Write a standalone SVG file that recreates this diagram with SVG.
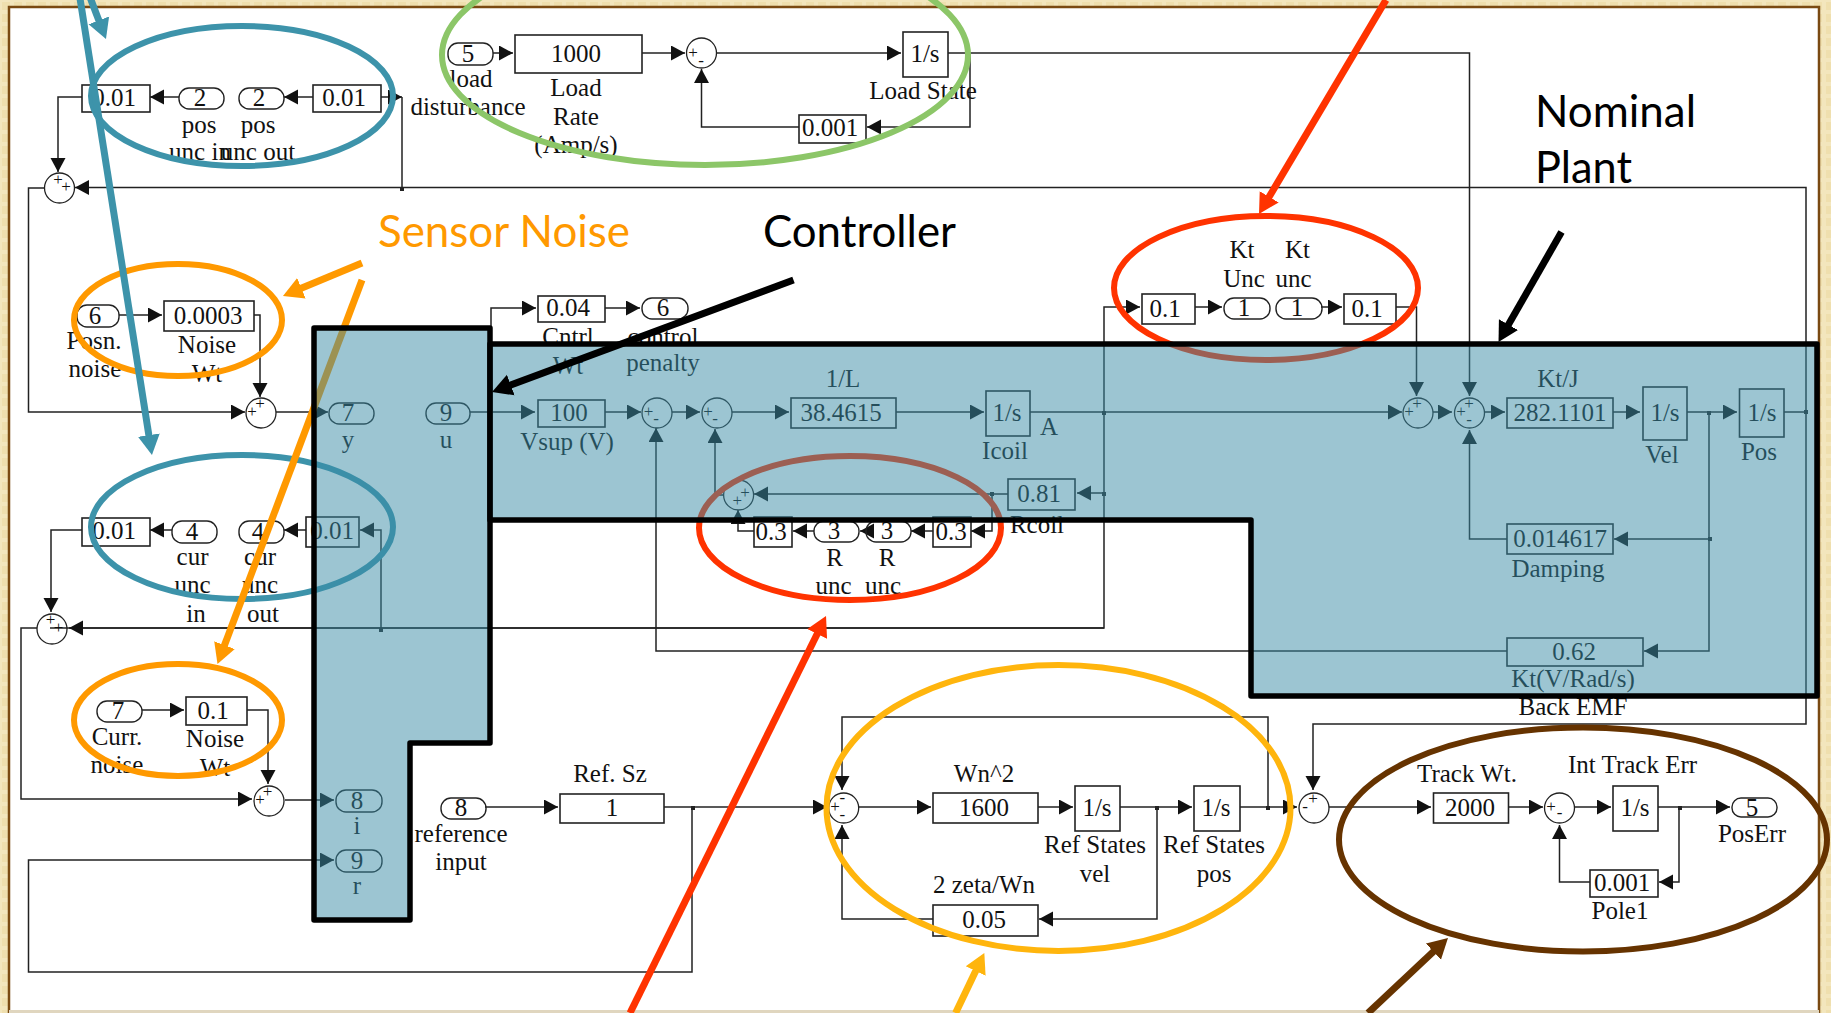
<svg xmlns="http://www.w3.org/2000/svg" width="1831" height="1013" viewBox="0 0 1831 1013">
<style>
.w{fill:none;stroke:#222;stroke-width:1.5}
.a{fill:none;stroke:#222;stroke-width:1.5;marker-end:url(#ah)}
.b{fill:#fff;fill-opacity:0;stroke:#222;stroke-width:1.6}
.p{fill:none;stroke:#222;stroke-width:1.4}
.s{fill:none;stroke:#222;stroke-width:1.3}
text{font-family:"Liberation Serif","Times New Roman",serif;font-size:25px;fill:#111;text-anchor:middle}
.g{font-size:17px}
.lab{font-family:Lato,"Noto Sans",sans-serif;font-size:44px;text-anchor:start}
.el{fill:none;stroke-width:6}
.reg{fill:#3a8ca5;fill-opacity:.5;stroke:#000;stroke-width:5.5;stroke-linejoin:round}
.big{fill:none;stroke-width:7}
</style>
<defs>
<pattern id="tex" width="12" height="12" patternUnits="userSpaceOnUse"><rect width="12" height="12" fill="#f3e6bd"/><rect x="2" y="2" width="8" height="8" fill="#efdfae"/></pattern>
<marker id="ah" markerUnits="userSpaceOnUse" markerWidth="15" markerHeight="16" refX="14" refY="7.5" orient="auto"><path d="M0,0L14,7.5L0,15Z" fill="#111"/></marker>
<marker id="hBlue" markerUnits="userSpaceOnUse" markerWidth="24" markerHeight="24" refX="10" refY="12" orient="auto"><path d="M0,1L20,12L0,23Z" fill="#3d93aa"/></marker>
<marker id="hOrange" markerUnits="userSpaceOnUse" markerWidth="24" markerHeight="24" refX="10" refY="12" orient="auto"><path d="M0,1L20,12L0,23Z" fill="#ff9900"/></marker>
<marker id="hBlack" markerUnits="userSpaceOnUse" markerWidth="24" markerHeight="24" refX="10" refY="12" orient="auto"><path d="M0,1L20,12L0,23Z" fill="#000"/></marker>
<marker id="hRed" markerUnits="userSpaceOnUse" markerWidth="24" markerHeight="24" refX="10" refY="12" orient="auto"><path d="M0,1L20,12L0,23Z" fill="#ff3300"/></marker>
<marker id="hYellow" markerUnits="userSpaceOnUse" markerWidth="24" markerHeight="24" refX="10" refY="12" orient="auto"><path d="M0,1L20,12L0,23Z" fill="#ffb50d"/></marker>
<marker id="hBrown" markerUnits="userSpaceOnUse" markerWidth="24" markerHeight="24" refX="10" refY="12" orient="auto"><path d="M0,1L20,12L0,23Z" fill="#663300"/></marker>
</defs>
<rect width="1831" height="1013" fill="url(#tex)"/>
<rect x="9" y="7" width="1810" height="1004" fill="#fff"/>
<path d="M9,1013V7H1819V1013" fill="none" stroke="#7a4a12" stroke-width="2.5"/>
<path d="M9,1011.5H1819" fill="none" stroke="#e0d6bf" stroke-width="3"/>

<g id="connectors">
<path class="a" d="M493,53H513"/>
<path class="a" d="M642,53H685"/>
<path class="a" d="M717,53H901"/>
<path class="a" d="M948,53H1469.500V396"/>
<path class="a" d="M970,53V127H867"/>
<path class="a" d="M799,127H701.500V69"/>
<path class="a" d="M381,97H402"/>
<path class="w" d="M402,97V188"/>
<path class="a" d="M1806,412V187.500H75"/>
<path class="a" d="M313,97H284"/>
<path class="a" d="M179,97H150"/>
<path class="a" d="M82,97H58V172"/>
<path class="a" d="M44,188H28.500V412H245"/>
<path class="a" d="M119,315H162"/>
<path class="a" d="M254,315H260V397"/>
<path class="a" d="M276,412H328"/>
<path class="a" d="M470,412H535"/>
<path class="a" d="M491,328V308H536"/>
<path class="a" d="M605,308H640"/>
<path class="a" d="M605,412H641"/>
<path class="a" d="M672,412H700"/>
<path class="a" d="M732,412H789"/>
<path class="a" d="M896,412H984"/>
<path class="w" d="M1030,412H1104"/>
<path class="a" d="M1104,412H1402"/>
<path class="a" d="M1104,412V307H1140"/>
<path class="a" d="M1195,307H1222"/>
<path class="a" d="M1321,307H1342"/>
<path class="a" d="M1396,307H1416.500V396"/>
<path class="w" d="M1104,412V628H50"/>
<path class="a" d="M1104,628H69"/>
<path class="a" d="M381,629V530H360"/>
<path class="a" d="M306,530H284"/>
<path class="a" d="M172,530H150"/>
<path class="a" d="M82,530H51V612"/>
<path class="a" d="M37,628H21V799H252"/>
<path class="a" d="M142,710H184"/>
<path class="a" d="M247,710H268V784"/>
<path class="a" d="M285,800H334"/>
<path class="a" d="M692,807V972H28.500V860H334"/>
<path class="a" d="M485,807H558"/>
<path class="a" d="M664,807H827"/>
<path class="a" d="M859,807H931"/>
<path class="a" d="M1038,807H1073"/>
<path class="a" d="M1120,807H1192"/>
<path class="a" d="M1157,807V919H1039"/>
<path class="a" d="M933,919H842V825"/>
<path class="a" d="M1240,807H1297"/>
<path class="a" d="M1268,807V717H842V790"/>
<path class="a" d="M1806,412V724H1313V790"/>
<path class="a" d="M1329,807H1431"/>
<path class="a" d="M1508,807H1543"/>
<path class="a" d="M1575,807H1611"/>
<path class="a" d="M1658,807H1730"/>
<path class="a" d="M1679,807V882H1659"/>
<path class="a" d="M1590,882H1559.500V825"/>
<path class="a" d="M1433,412H1452"/>
<path class="a" d="M1485,412H1505"/>
<path class="a" d="M1613,412H1640"/>
<path class="a" d="M1687,412H1737"/>
<path class="w" d="M1784,412H1806"/>
<path class="a" d="M1709,412V539H1614"/>
<path class="a" d="M1709,539V651H1644"/>
<path class="a" d="M1507,539H1469.500V430"/>
<path class="a" d="M1507,651H656V428"/>
<path class="a" d="M724,495H715V429"/>
<path class="a" d="M1104,493H1077"/>
<path class="a" d="M1008,494H754"/>
<path class="a" d="M992,494V531H971"/>
<path class="a" d="M933,531H911"/>
<path class="a" d="M866,531H860"/>
<path class="a" d="M814,531H793"/>
<path class="a" d="M754,531H738V510"/>
<g fill="#222"><rect x="400" y="187" width="4" height="4"/><rect x="379" y="628" width="4" height="4"/><rect x="1102" y="411" width="4" height="4"/><rect x="1102" y="492" width="4" height="4"/><rect x="990" y="492" width="4" height="4"/><rect x="1707" y="411" width="4" height="4"/><rect x="1708" y="537" width="4" height="4"/><rect x="1804" y="410" width="4" height="4"/><rect x="691" y="806" width="4" height="4"/><rect x="1155" y="806" width="4" height="4"/><rect x="1266" y="806" width="4" height="4"/><rect x="1678" y="806" width="4" height="4"/></g>
</g>

<g id="n-pos-in"><rect class="b" x="82" y="85" width="68" height="27"/><text x="114" y="106">0.01</text></g>
<g id="n-pos-unc-in"><rect class="p" x="179" y="88" width="45" height="21" rx="10"/><text x="200" y="106">2</text><text x="199" y="133">pos</text><text x="200" y="160">unc in</text></g>
<g id="n-pos-unc-out"><rect class="p" x="239" y="88" width="45" height="21" rx="10"/><text x="259" y="106">2</text><text x="258" y="133">pos</text><text x="258" y="160">unc out</text></g>
<g id="n-pos-out"><rect class="b" x="313" y="85" width="68" height="27"/><text x="344" y="106">0.01</text></g>
<g id="n-load-in"><rect class="p" x="448" y="43" width="45" height="22" rx="10"/><text x="468" y="62">5</text><text x="471" y="87">load</text><text x="468" y="115">disturbance</text></g>
<g id="n-load-rate"><rect class="b" x="515" y="35" width="127" height="38"/><text x="576" y="62">1000</text><text x="576" y="96">Load</text><text x="576" y="125">Rate</text><text x="576" y="153">(Amp/s)</text></g>
<g id="n-load-sum"><circle class="s" cx="701.500" cy="53" r="15"/><text class="g" x="693" y="58">+</text><text class="g" x="701" y="66">-</text></g>
<g id="n-load-state"><rect class="b" x="903" y="32" width="45" height="45"/><text x="925" y="62">1/s</text><text x="923" y="99">Load State</text></g>
<g id="n-load-pole"><rect class="b" x="799" y="115" width="67" height="28"/><text x="830" y="136">0.001</text></g>
<g id="n-sum1"><circle class="s" cx="59.500" cy="188" r="15"/><text class="g" x="58" y="185">+</text><text class="g" x="66" y="192">+</text></g>
<g id="n-posn-noise"><rect class="p" x="77" y="305" width="42" height="22" rx="10"/><text x="95" y="324">6</text><text x="94" y="349">Posn.</text><text x="95" y="377">noise</text></g>
<g id="n-noise-wt"><rect class="b" x="164" y="301" width="90" height="30"/><text x="208" y="324">0.0003</text><text x="207" y="353">Noise</text><text x="207" y="382">Wt</text></g>
<g id="n-sum2"><circle class="s" cx="261" cy="413" r="15"/><text class="g" x="252" y="417">+</text><text class="g" x="260" y="409">+</text></g>
<g id="n-y"><rect class="p" x="329" y="403" width="45" height="21" rx="10"/><text x="348" y="421">7</text><text x="348" y="448">y</text></g>
<g id="n-u"><rect class="p" x="426" y="403" width="44" height="21" rx="10"/><text x="446" y="421">9</text><text x="446" y="448">u</text></g>
<g id="n-cntrl"><rect class="b" x="538" y="296" width="67" height="26"/><text x="568" y="316">0.04</text><text x="568" y="345">Cntrl</text><text x="568" y="374">Wt</text></g>
<g id="n-penalty"><rect class="p" x="642" y="298" width="46" height="21" rx="10"/><text x="663" y="316">6</text><text x="663" y="345">control</text><text x="663" y="371">penalty</text></g>
<g id="n-vsup"><rect class="b" x="538" y="400" width="67" height="27"/><text x="569" y="421">100</text><text x="567" y="450">Vsup (V)</text></g>
<g id="n-sum-a"><circle class="s" cx="657" cy="413" r="15"/><text class="g" x="648.500" y="417">+</text><text class="g" x="656" y="424">-</text></g>
<g id="n-sum-b"><circle class="s" cx="717" cy="413" r="15"/><text class="g" x="708" y="417">+</text><text class="g" x="715" y="424">-</text></g>
<g id="n-1-l"><rect class="b" x="791" y="398" width="105" height="30"/><text x="841" y="421">38.4615</text><text x="843" y="387">1/L</text></g>
<g id="n-icoil"><rect class="b" x="986" y="391" width="44" height="45"/><text x="1007" y="421">1/s</text><text x="1049" y="435">A</text><text x="1005" y="459">Icoil</text></g>
<g id="n-rcoil"><rect class="b" x="1008" y="479" width="67" height="31"/><text x="1039" y="502">0.81</text><text x="1037" y="533">Rcoil</text></g>
<g id="n-sum-r"><circle class="s" cx="738.600" cy="495" r="15"/><text class="g" x="745" y="498">+</text><text class="g" x="737.400" y="506">+</text></g>
<g id="n-r-in"><rect class="b" x="754" y="517" width="38" height="30"/><text x="771" y="540">0.3</text></g>
<g id="n-r-unc-in"><rect class="p" x="814" y="521" width="45" height="21" rx="10"/><text x="834" y="539">3</text><text x="834.500" y="566">R</text><text x="833.500" y="594">unc</text></g>
<g id="n-r-unc-out"><rect class="p" x="866" y="521" width="45" height="21" rx="10"/><text x="887" y="539">3</text><text x="887" y="566">R</text><text x="883" y="594">unc</text></g>
<g id="n-r-out"><rect class="b" x="933" y="517" width="38" height="30"/><text x="951" y="540">0.3</text></g>
<g id="n-kt-in"><rect class="b" x="1142" y="294" width="53" height="30"/><text x="1165" y="317">0.1</text></g>
<g id="n-kt-unc-in"><rect class="p" x="1224" y="298" width="46" height="21" rx="10"/><text x="1244" y="316">1</text><text x="1242" y="258">Kt</text><text x="1244" y="287">Unc</text></g>
<g id="n-kt-unc-out"><rect class="p" x="1276" y="298" width="46" height="21" rx="10"/><text x="1297" y="316">1</text><text x="1297.500" y="258">Kt</text><text x="1293.500" y="287">unc</text></g>
<g id="n-kt-out"><rect class="b" x="1344" y="294" width="52" height="30"/><text x="1367" y="317">0.1</text></g>
<g id="n-sum-d"><circle class="s" cx="1418" cy="413" r="15"/><text class="g" x="1409" y="417">+</text><text class="g" x="1417" y="409">+</text></g>
<g id="n-sum-e"><circle class="s" cx="1469.500" cy="413" r="15"/><text class="g" x="1461" y="417">+</text><text class="g" x="1469" y="409">+</text><text class="g" x="1469" y="425">-</text></g>
<g id="n-kt-j"><rect class="b" x="1507" y="398" width="106" height="30"/><text x="1560" y="421">282.1101</text><text x="1558" y="387">Kt/J</text></g>
<g id="n-vel"><rect class="b" x="1643" y="387" width="44" height="53"/><text x="1665" y="421">1/s</text><text x="1662" y="463">Vel</text></g>
<g id="n-pos"><rect class="b" x="1739.500" y="389" width="44.500" height="48"/><text x="1762" y="421">1/s</text><text x="1759" y="460">Pos</text></g>
<g id="n-damping"><rect class="b" x="1507" y="524" width="106" height="30"/><text x="1560" y="547">0.014617</text><text x="1558" y="577">Damping</text></g>
<g id="n-back-emf"><rect class="b" x="1507" y="638" width="136" height="28"/><text x="1574" y="660">0.62</text><text x="1573" y="687">Kt(V/Rad/s)</text><text x="1573" y="715">Back EMF</text></g>
<g id="n-cur-in"><rect class="b" x="82" y="518" width="68" height="28"/><text x="114" y="539">0.01</text></g>
<g id="n-cur-unc-in"><rect class="p" x="172" y="521" width="45" height="22" rx="10"/><text x="192" y="540">4</text><text x="192.500" y="565">cur</text><text x="192.500" y="593">unc</text><text x="196" y="622">in</text></g>
<g id="n-cur-unc-out"><rect class="p" x="239" y="521" width="45" height="22" rx="10"/><text x="258" y="540">4</text><text x="260" y="565">cur</text><text x="260" y="593">unc</text><text x="263" y="622">out</text></g>
<g id="n-cur-out"><rect class="b" x="306" y="517" width="53" height="30"/><text x="332" y="539">0.01</text></g>
<g id="n-sum3"><circle class="s" cx="52" cy="629" r="15"/><text class="g" x="50.500" y="625">+</text><text class="g" x="58.500" y="633">+</text></g>
<g id="n-curr-noise"><rect class="p" x="97" y="701" width="45" height="21" rx="10"/><text x="118" y="719">7</text><text x="117" y="745">Curr.</text><text x="117" y="773">noise</text></g>
<g id="n-curr-wt"><rect class="b" x="186" y="697" width="61" height="28"/><text x="213" y="719">0.1</text><text x="215" y="747">Noise</text><text x="215" y="776">Wt</text></g>
<g id="n-sum4"><circle class="s" cx="269" cy="801" r="15"/><text class="g" x="260" y="805">+</text><text class="g" x="267.500" y="797">+</text></g>
<g id="n-i"><rect class="p" x="336" y="790" width="46" height="22" rx="10"/><text x="357" y="809">8</text><text x="357" y="834">i</text></g>
<g id="n-r"><rect class="p" x="336" y="850" width="46" height="22" rx="10"/><text x="357" y="869">9</text><text x="357" y="894">r</text></g>
<g id="n-ref-in"><rect class="p" x="441" y="798" width="45" height="21" rx="10"/><text x="461" y="816">8</text><text x="461" y="842">reference</text><text x="461" y="870">input</text></g>
<g id="n-ref-sz"><rect class="b" x="560" y="794" width="104" height="29"/><text x="612" y="816">1</text><text x="610" y="782">Ref. Sz</text></g>
<g id="n-sum-ref"><circle class="s" cx="843.700" cy="808" r="15"/><text class="g" x="835" y="812">+</text><text class="g" x="842.300" y="803">-</text><text class="g" x="842.300" y="820">-</text></g>
<g id="n-wn2"><rect class="b" x="933" y="793" width="105" height="30"/><text x="984" y="816">1600</text><text x="984" y="782">Wn^2</text></g>
<g id="n-ref-vel"><rect class="b" x="1075" y="786" width="45" height="45"/><text x="1097" y="816">1/s</text><text x="1095" y="853">Ref States</text><text x="1095" y="882">vel</text></g>
<g id="n-ref-pos"><rect class="b" x="1194" y="786" width="46" height="45"/><text x="1216" y="816">1/s</text><text x="1214" y="853">Ref States</text><text x="1214" y="882">pos</text></g>
<g id="n-zeta"><rect class="b" x="933" y="905" width="105" height="31"/><text x="984" y="928">0.05</text><text x="984" y="893">2 zeta/Wn</text></g>
<g id="n-sum-err"><circle class="s" cx="1314" cy="808" r="15"/><text class="g" x="1313" y="804">+</text><text class="g" x="1305" y="812">-</text></g>
<g id="n-track"><rect class="b" x="1433.500" y="793" width="75" height="30"/><text x="1470" y="816">2000</text><text x="1467" y="782">Track Wt.</text></g>
<g id="n-sum-track"><circle class="s" cx="1559.500" cy="808" r="15"/><text class="g" x="1551" y="812">+</text><text class="g" x="1559.500" y="818">-</text></g>
<g id="n-int"><rect class="b" x="1613" y="786" width="45" height="45"/><text x="1635" y="816">1/s</text><text x="1632.500" y="773">Int Track Err</text></g>
<g id="n-poserr"><rect class="p" x="1732" y="798" width="45" height="19" rx="9"/><text x="1752" y="816">5</text><text x="1752" y="842">PosErr</text></g>
<g id="n-pole1"><rect class="b" x="1590" y="870" width="68" height="27"/><text x="1622" y="891">0.001</text><text x="1620" y="919">Pole1</text></g>

<g id="annotations">
<ellipse class="el" cx="242" cy="96" rx="151" ry="70" stroke="#3d93aa"/>
<ellipse class="el" cx="242" cy="527" rx="151" ry="72" stroke="#3d93aa"/>
<ellipse class="el" cx="705" cy="55" rx="263" ry="110" stroke="#8cc668"/>
<ellipse class="el" cx="178" cy="320" rx="104" ry="56" stroke="#ff9900"/>
<ellipse class="el" cx="178" cy="720" rx="104" ry="56" stroke="#ff9900"/>
<ellipse class="el" cx="1266" cy="288" rx="152" ry="72" stroke="#ff3300"/>
<ellipse class="el" cx="850" cy="528" rx="151" ry="72" stroke="#ff3300"/>
<ellipse class="el" cx="1058.500" cy="808" rx="232" ry="143" stroke="#ffb50d"/>
<ellipse class="el" cx="1583" cy="839.500" rx="244" ry="112" stroke="#663300"/>
<path class="big" d="M79,-8L150.400,445" stroke="#3d93aa" marker-end="url(#hBlue)"/>
<path class="big" d="M88,-8L102.400,29.700" stroke="#3d93aa" marker-end="url(#hBlue)"/>
<path class="big" d="M362,263L292.200,292.100" stroke="#ff9900" marker-end="url(#hOrange)"/>
<path class="big" d="M362,280L221,654.600" stroke="#ff9900" stroke-width="5.500" marker-end="url(#hOrange)"/>
<path class="big" d="M1386,0L1264.100,205.400" stroke="#ff3300" marker-end="url(#hRed)"/>
<path class="big" d="M630,1013L821.600,625" stroke="#ff3300" marker-end="url(#hRed)"/>
<path class="big" d="M955.600,1013L980,962" stroke="#ffb50d" marker-end="url(#hYellow)"/>
<path class="big" d="M1368,1013L1440.700,944.800" stroke="#663300" marker-end="url(#hBrown)"/>
</g>
<polygon id="controller-region" class="reg" points="314,328 490,328 490,743 410,743 410,920 314,920"/>
<polygon id="plant-region" class="reg" points="490,344 1817,344 1817,696 1251,696 1251,520 490,520"/>
<g id="callouts">
<path class="big" d="M793.500,280L501.400,388.500" stroke="#000" marker-end="url(#hBlack)"/>
<path class="big" d="M1561.500,232L1503.500,333.300" stroke="#000" marker-end="url(#hBlack)"/>
<text class="lab" x="378" y="247" style="fill:#ff9900" textLength="252" lengthAdjust="spacingAndGlyphs">Sensor Noise</text>
<text class="lab" x="763" y="247" textLength="193" lengthAdjust="spacingAndGlyphs" style="fill:#000">Controller</text>
<text class="lab" x="1535" y="127" textLength="161" lengthAdjust="spacingAndGlyphs" style="fill:#000">Nominal</text>
<text class="lab" x="1535" y="183" textLength="97" lengthAdjust="spacingAndGlyphs" style="fill:#000">Plant</text>
</g>
</svg>
